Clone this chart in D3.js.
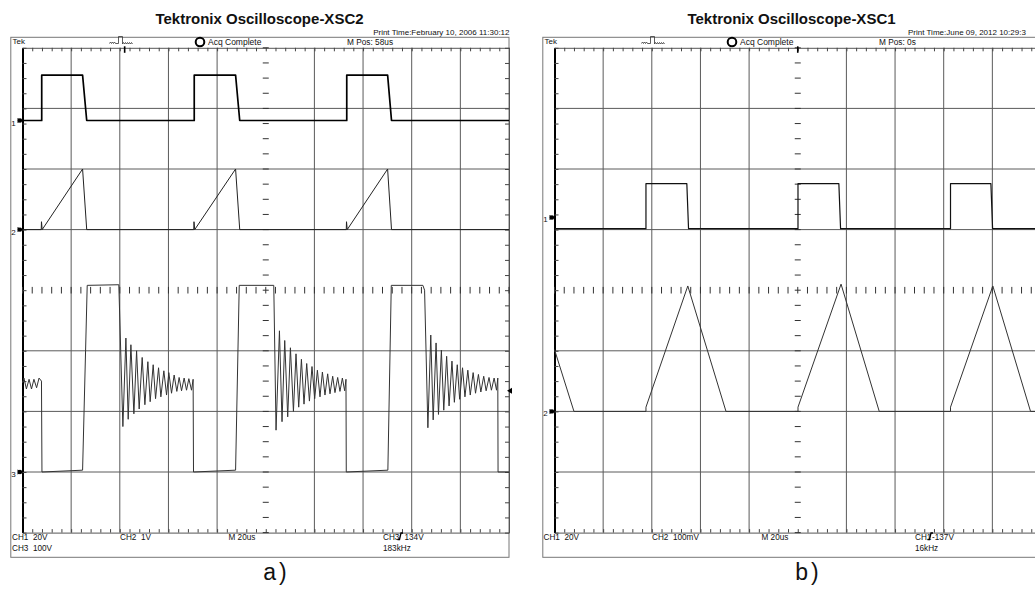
<!DOCTYPE html>
<html>
<head>
<meta charset="utf-8">
<script src="https://cdn.jsdelivr.net/npm/d3@7"></script>
<style>
  body { margin: 0; background: #fff; }
  svg { display: block; }
  text { font-family: "Liberation Sans", Arial, sans-serif; fill: #111; }
</style>
</head>
<body>
<svg id="chart" width="1035" height="592"></svg>
<script>
// ---- Data: time in us (20us/div, 10 div), values in volts (b CH2 in mV) ----
// panel a) XSC2
const aCh1 = [[0, 0], [7.9, 0], [7.9, 15], [24.7, 15], [26.4, 0], [70.6, 0], [70.6, 15], [87.6, 15], [89.3, 0],
  [133.3, 0], [133.3, 15], [150.1, 15], [151.7, 0], [200, 0]];
const aCh2 = [[0, 0], [7.7, 0], [7.8, 0.13], [8.1, 0], [24.7, 1.0], [26.4, 0], [70.4, 0], [70.5, 0.13], [70.8, 0],
  [87.6, 1.0], [89.3, 0], [133.1, 0], [133.2, 0.13], [133.5, 0], [150.1, 1.0], [151.7, 0], [200, 0]];
const aCh3 = [
  [0, 147], [0.6, 155], [1.6, 137], [2.7, 153], [3.7, 137], [4.7, 153], [5.8, 139], [6.8, 155], [7.8, 150], [8.0, 0],
  [24.7, 3], [26.6, 308], [39.6, 309],
  [41.27, 75], [42.51, 221], [43.45, 87], [44.56, 210], [45.79, 96], [46.90, 200], [47.97, 104], [49.20, 189],
  [50.31, 111], [51.54, 182], [52.48, 116], [53.72, 177], [54.70, 121], [55.93, 172], [56.88, 124], [58.11, 167],
  [59.22, 127], [60.16, 164], [61.27, 130], [62.34, 160], [63.45, 133], [64.39, 156], [65.38, 134], [66.45, 155],
  [67.43, 135], [68.38, 154], [69.49, 135], [70.14, 153],
  [70.3, 0], [87.6, 3], [89.1, 308], [103.3, 308],
  [104.23, 69], [105.63, 233], [106.69, 83], [107.80, 217], [109.03, 91], [110.14, 205], [111.38, 100], [112.44, 195],
  [113.55, 107], [114.66, 186], [115.73, 112], [116.84, 179], [117.95, 117], [119.01, 174], [120.12, 121], [121.23, 168],
  [122.30, 124], [123.29, 165], [124.35, 127], [125.46, 162], [126.41, 129], [127.52, 158], [128.46, 131], [129.57, 156],
  [130.51, 133], [131.50, 155], [132.44, 134], [132.98, 153],
  [133.1, 0], [150.2, 3], [151.6, 308], [164.6, 308], [165.3, 300],
  [166.65, 73], [167.84, 226], [168.83, 86], [170.02, 213], [171.01, 95], [172.20, 201], [173.18, 102], [174.37, 191],
  [175.36, 109], [176.55, 183], [177.54, 115], [178.73, 177], [179.71, 120], [180.90, 172], [181.89, 124], [183.08, 168],
  [184.07, 127], [185.26, 164], [186.24, 130], [187.43, 161], [188.42, 132], [189.61, 158], [190.60, 134], [191.79, 156],
  [192.77, 135], [193.88, 155], [194.87, 135], [195.40, 155],
  [195.5, 0], [200, 0]
];
// panel b) XSC1
const bCh1 = [[0, -3.7], [37.6, -3.7], [37.6, 11.2], [54.4, 11.2], [55.1, -3.7], [100.1, -3.7], [100.1, 11.2], [116.9, 11.2],
  [117.6, -3.7], [162.8, -3.7], [162.8, 11.2], [179.4, 11.2], [180.1, -3.7], [200, -3.7]];
const bCh2 = [[0, 102], [8.0, 0], [37.6, 0], [37.6, 7], [54.8, 207], [70.5, 0], [100.1, 0], [100.1, 7], [117.8, 210],
  [133.5, 0], [162.8, 0], [162.8, 7], [180.2, 207], [195.7, 0], [200, 0]];

// channel settings: volts/div and ground position (div from centre)
const aVoltsDiv = [20, 1, 100];
const aGround = [2.8, 1.0, -3.0];
const bVoltsDiv = [20, 100];
const bGround = [1.2, -2.0];

// ---- Layout ----
const gridTop = 47.8;
const gridBottom = 532.6;
const gridW = 486.5;

const svg = d3.select('#chart');

const panels = [
  {
    gx: 22.5, title: 'Tektronix Oscilloscope-XSC2', print: 'Print Time:February 10, 2006 11:30:12',
    printX: 487, printAnchor: 'end',
    mpos: 'M Pos: 58us', trigPos: 42, letter: 'a)',
    channels: [
      {data: aCh1, vdiv: aVoltsDiv[0], pos: aGround[0], label: '1', color: '#000', width: 1.7},
      {data: aCh2, vdiv: aVoltsDiv[1], pos: aGround[1], label: '2', color: '#222', width: 1},
      {data: aCh3, vdiv: aVoltsDiv[2], pos: aGround[2], label: '3', color: '#333', width: 1}
    ],
    trigLevel: {ch: 2, value: 134},
    bottom: [['CH1  20V', -10.5, 540], ['CH2  1V', 97.5, 540], ['M 20us', 206, 540], ['CH3', 360.5, 540],
      ['134V', 382, 540], ['183kHz', 360.5, 551], ['CH3  100V', -10.5, 551]],
    slopeX: 375
  },
  {
    gx: 554.5, title: 'Tektronix Oscilloscope-XSC1', print: 'Print Time:June 09, 2012 10:29:3',
    printX: 353.5, printAnchor: 'start',
    mpos: 'M Pos: 0s', trigPos: 100, letter: 'b)',
    channels: [
      {data: bCh1, vdiv: bVoltsDiv[0], pos: bGround[0], label: '1', color: '#111', width: 1.2},
      {data: bCh2, vdiv: bVoltsDiv[1], pos: bGround[1], label: '2', color: '#333', width: 1}
    ],
    trigLevel: null,
    bottom: [['CH1  20V', -11, 540], ['CH2  100mV', 97.5, 540], ['M 20us', 207, 540], ['CH1', 360.5, 540],
      ['-137V', 377.5, 540], ['16kHz', 360.5, 551]],
    slopeX: 373
  }
];

panels.forEach(p => {
  const g = svg.append('g');
  const x = d3.scaleLinear().domain([0, 200]).range([p.gx, p.gx + gridW]);
  const y = d3.scaleLinear().domain([-4, 4]).range([gridBottom, gridTop]);

  // title and print time
  g.append('text')
    .attr('x', p.gx + 237).attr('y', 24)
    .attr('text-anchor', 'middle')
    .attr('font-size', 15).attr('font-weight', 'bold')
    .text(p.title);
  g.append('text')
    .attr('x', p.gx + p.printX).attr('y', 34.5)
    .attr('text-anchor', p.printAnchor)
    .attr('font-size', 8)
    .text(p.print);

  // outer frame
  g.append('rect')
    .attr('x', p.gx - 11.7).attr('y', 37.3)
    .attr('width', gridW + 11.7).attr('height', 520)
    .attr('fill', 'none').attr('stroke', '#777').attr('stroke-width', 1);

  // header row
  g.append('text').attr('x', p.gx - 10).attr('y', 44).attr('font-size', 8).text('Tek');
  g.append('path')
    .attr('d', `M${p.gx + 87},43.5 l1,-1.5 l1,1.5 l1,-1.5 l1,1.5 l1,-1.5 l1,1.5 L${p.gx + 96},43.5 L${p.gx + 96},36.5 ` +
      `L${p.gx + 100},36.5 L${p.gx + 100},44 l1,-1.5 l1,1.5 l1,-1.5 l1,1.5 l1,-1.5 l1,1.5 l1,-1.5 l1,1.5 l1,-1.5 l1,1.5`)
    .attr('fill', 'none').attr('stroke', '#333').attr('stroke-width', 0.8);
  g.append('circle')
    .attr('cx', p.gx + 177.5).attr('cy', 42).attr('r', 4.3)
    .attr('fill', 'none').attr('stroke', '#000').attr('stroke-width', 2);
  g.append('text').attr('x', p.gx + 185.5).attr('y', 44.5).attr('font-size', 8.5).text('Acq Complete');
  g.append('text').attr('x', p.gx + 324.5).attr('y', 44.5).attr('font-size', 8.3).text(p.mpos);

  // gridlines
  const grid = g.append('g').attr('stroke', '#5a5a5a').attr('stroke-width', 1);
  [1, 2, 3, 4, 6, 7, 8, 9].forEach(i => {
    grid.append('line')
      .attr('x1', x(i * 20)).attr('x2', x(i * 20))
      .attr('y1', gridTop).attr('y2', gridBottom);
  });
  [-3, -2, -1, 1, 2, 3].forEach(i => {
    grid.append('line')
      .attr('x1', p.gx).attr('x2', p.gx + gridW)
      .attr('y1', y(i)).attr('y2', y(i));
  });

  // border ticks via axes
  const hTicks = d3.range(0, 200.01, 4);
  const vTicks = d3.range(-4, 4.01, 0.25);
  const noLabel = () => '';
  const topAxis = g.append('g').attr('transform', `translate(0,${gridTop})`)
    .call(d3.axisBottom(x).tickValues(hTicks).tickSize(3.5).tickSizeOuter(0).tickFormat(noLabel));
  const bottomAxis = g.append('g').attr('transform', `translate(0,${gridBottom})`)
    .call(d3.axisTop(x).tickValues(hTicks).tickSize(3.5).tickSizeOuter(0).tickFormat(noLabel));
  const rightAxis = g.append('g').attr('transform', `translate(${p.gx + gridW},0)`)
    .call(d3.axisLeft(y).tickValues(vTicks).tickSize(4).tickSizeOuter(0).tickFormat(noLabel));
  const leftAxis = g.append('g').attr('transform', `translate(${p.gx},0)`)
    .call(d3.axisRight(y).tickValues(vTicks).tickSize(4).tickSizeOuter(0).tickFormat(noLabel));
  [topAxis, bottomAxis, rightAxis].forEach(a => {
    a.select('.domain').attr('stroke', '#555').attr('stroke-width', 1);
    a.selectAll('.tick line').attr('stroke', '#444');
  });
  leftAxis.select('.domain').attr('stroke', '#000').attr('stroke-width', 2);
  leftAxis.selectAll('.tick line').attr('stroke', '#444');

  // centre cross ticks
  const centre = g.append('g').attr('stroke', '#333').attr('stroke-width', 1);
  hTicks.forEach(t => {
    centre.append('line')
      .attr('x1', x(t)).attr('x2', x(t))
      .attr('y1', y(0) - 3.3).attr('y2', y(0) + 3.3);
  });
  vTicks.forEach(v => {
    centre.append('line')
      .attr('x1', x(100) - 3).attr('x2', x(100) + 3)
      .attr('y1', y(v)).attr('y2', y(v));
  });

  // trigger position marker on top border
  g.append('line')
    .attr('x1', x(p.trigPos)).attr('x2', x(p.trigPos))
    .attr('y1', gridTop - 1.5).attr('y2', gridTop + 5)
    .attr('stroke', '#000').attr('stroke-width', 1.6);

  // traces
  p.channels.forEach(ch => {
    const line = d3.line()
      .x(d => x(d[0]))
      .y(d => y(ch.pos + d[1] / ch.vdiv));
    g.append('path')
      .datum(ch.data)
      .attr('d', line)
      .attr('fill', 'none')
      .attr('stroke', ch.color)
      .attr('stroke-width', ch.width)
      .attr('stroke-linejoin', 'round');

    // ground marker
    g.append('path')
      .attr('d', `M${p.gx - 5},${y(ch.pos) - 2.5} L${p.gx},${y(ch.pos)} L${p.gx - 5},${y(ch.pos) + 2.5} Z`)
      .attr('fill', '#000');
    g.append('circle').attr('cx', p.gx - 2.5).attr('cy', y(ch.pos)).attr('r', 2.2).attr('fill', '#000');
    g.append('text')
      .attr('x', p.gx - 11.2).attr('y', y(ch.pos) + 5)
      .attr('font-size', 8)
      .text(ch.label);
  });

  // trigger level marker on right border
  if (p.trigLevel) {
    const ch = p.channels[p.trigLevel.ch];
    const ty = y(ch.pos + p.trigLevel.value / ch.vdiv);
    g.append('path')
      .attr('d', `M${p.gx + gridW + 3},${ty - 3} L${p.gx + gridW - 2},${ty} L${p.gx + gridW + 3},${ty + 3} Z`)
      .attr('fill', '#000');
  }

  // bottom readouts
  p.bottom.forEach(([txt, dx, ty]) => {
    g.append('text')
      .attr('x', p.gx + dx).attr('y', ty)
      .attr('font-size', 8.2)
      .style('white-space', 'pre')
      .text(txt);
  });
  g.append('path')
    .attr('d', `M${p.gx + p.slopeX},539.5 L${p.gx + p.slopeX + 2},539.5 L${p.gx + p.slopeX + 3.5},533 L${p.gx + p.slopeX + 5.5},533`)
    .attr('fill', 'none').attr('stroke', '#000').attr('stroke-width', 1.3);

  // panel letter
  g.append('text')
    .attr('x', p.gx + 254).attr('y', 580)
    .attr('text-anchor', 'middle')
    .attr('font-family', '"DejaVu Sans", sans-serif')
    .attr('font-size', 23)
    .attr('letter-spacing', 3)
    .text(p.letter);
});
</script>
</body>
</html>
